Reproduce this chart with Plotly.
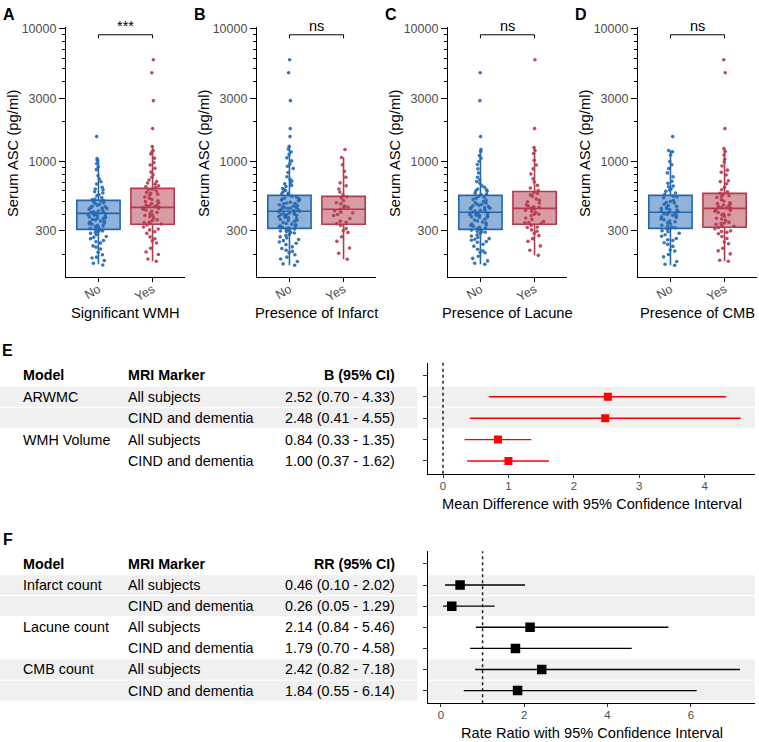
import math
import plotly.graph_objects as go

W, H = 759, 742
FONT = "Liberation Sans, Arial, Helvetica, sans-serif"
BLUE, RED = "#2467b1", "#b43a4c"
BLUE_FILL, RED_FILL = "rgba(36,103,177,0.5)", "rgba(180,58,76,0.5)"
TICK_GRAY = "#4d4d4d"

# ---------------- data: panels A-D (Serum ASC, pg/ml) ----------------
categories = ["No", "Yes"]
panel_letters = ["A", "B", "C", "D"]
panel_xtitles = ["Significant WMH", "Presence of Infarct", "Presence of Lacune", "Presence of CMB"]
panel_sig = ["***", "ns", "ns", "ns"]
y_tick_vals = [300, 1000, 3000, 10000]

# box statistics: lower whisker, Q1, median, Q3, upper whisker
A_no_box = [168, 308, 406, 509, 1050]
A_yes_box = [177, 336, 451, 627, 1297]
B_no_box = [165, 313, 421, 555, 1300]
B_yes_box = [183, 336, 436, 546, 1072]
C_no_box = [168, 308, 414, 555, 1230]
C_yes_box = [196, 336, 443, 594, 1274]
D_no_box = [165, 313, 414, 555, 1210]
D_yes_box = [177, 319, 443, 575, 1250]

# individual subject values (estimated from the figure)
A_no = [412, 287, 355, 520, 198, 640, 377, 305, 468, 231, 1020, 349, 441, 262, 578, 396, 318, 179, 503, 703,
        423, 336, 254, 455, 611, 372, 291, 482, 166, 389, 534, 327, 868, 409, 243, 362, 497, 219, 676, 431,
        312, 551, 272, 384, 460, 190, 592, 342, 415, 781, 299, 476, 207, 365, 437, 1050, 323, 508, 248, 401,
        738, 281, 449, 354, 187, 620, 393, 330, 489, 226, 913, 371, 418, 268, 561, 306, 446, 340, 171, 515,
        404, 296, 965, 381, 1540]
A_yes = [452, 338, 705, 261, 498, 1210, 395, 583, 310, 655, 467, 222, 889, 421, 359, 540, 184, 1060, 443, 612,
         287, 376, 760, 505, 243, 470, 349, 1297, 598, 412, 321, 675, 528, 199, 437, 832, 383, 567, 295, 1140,
         461, 637, 346, 270, 489, 725, 403, 980, 556, 332, 177, 618, 430, 364, 795, 517, 252, 447, 689, 305,
         1175, 575, 392, 458, 940, 341, 208, 645, 481, 1770, 2875, 4670, 5850]
B_no = [421, 302, 560, 198, 377, 648, 265, 455, 333, 1010, 487, 214, 396, 712, 318, 530, 242, 437, 592, 353,
        169, 472, 826, 289, 409, 365, 1240, 512, 227, 446, 625, 341, 276, 384, 505, 190, 958, 428, 310, 575,
        253, 462, 690, 328, 401, 1130, 296, 540, 210, 418, 370, 767, 322, 479, 236, 615, 391, 282, 1300, 448,
        546, 176, 404, 347, 886, 315, 493, 258, 432, 660, 359, 205, 521, 386, 1065, 299, 466, 735, 247, 412,
        337, 570, 184, 452, 604, 308, 398, 920, 270, 482, 361, 221, 525, 426, 1180, 292, 443, 680, 165, 379,
        515, 326, 1540, 1770, 2875, 4670, 5850]
B_yes = [436, 312, 560, 250, 410, 690, 355, 488, 183, 845, 398, 530, 292, 452, 620, 340, 1072, 425, 223, 507,
         372, 760, 461, 329, 588, 271, 415, 945, 348, 479, 203, 542, 392, 655, 300, 445, 1230]
C_no = [414, 296, 563, 205, 381, 640, 262, 449, 330, 1005, 485, 218, 392, 705, 315, 528, 246, 433, 598, 350,
        171, 467, 818, 286, 404, 362, 1190, 509, 230, 441, 621, 338, 274, 380, 499, 193, 950, 423, 306, 577,
        255, 458, 686, 325, 398, 1110, 293, 538, 212, 416, 367, 760, 319, 474, 238, 612, 387, 279, 1230, 445,
        547, 178, 402, 344, 880, 311, 490, 259, 429, 655, 356, 207, 518, 383, 1060, 297, 463, 728, 249, 408,
        334, 568, 186, 450, 602, 304, 394, 168, 268, 478, 1540, 2875, 4670]
C_yes = [443, 320, 605, 262, 412, 740, 352, 497, 196, 880, 401, 548, 288, 462, 660, 341, 1150, 428, 231, 522,
         375, 805, 471, 330, 584, 276, 419, 1020, 347, 486, 214, 560, 390, 700, 305, 455, 1274, 365, 630, 250,
         438, 940, 318, 510, 400, 1210, 298, 575, 452, 345, 1770, 5850]
D_no = [414, 300, 565, 199, 378, 645, 263, 450, 331, 1000, 486, 215, 393, 710, 316, 532, 244, 434, 596, 351,
        168, 466, 820, 288, 406, 364, 1185, 508, 229, 442, 622, 339, 273, 382, 500, 191, 945, 424, 309, 578,
        254, 459, 685, 326, 399, 1120, 295, 540, 211, 417, 368, 765, 321, 475, 237, 610, 388, 280, 1210, 444,
        548, 176, 403, 345, 885, 314, 491, 257, 430, 652, 357, 165, 1540]
D_yes = [443, 318, 590, 240, 402, 715, 349, 489, 180, 860, 395, 538, 285, 458, 640, 336, 1120, 421, 222, 515,
         368, 790, 465, 327, 575, 263, 412, 990, 344, 478, 201, 552, 386, 680, 300, 449, 1250, 361, 612, 247,
         433, 925, 311, 503, 397, 1190, 292, 566, 447, 340, 177, 705, 272, 481, 1040, 325, 428, 212, 545, 373,
         830, 296, 470, 1770, 4670, 5850]

# ---------------- data: panel E (mean difference) ----------------
E_model = ["ARWMC", "", "WMH Volume", ""]
E_marker = ["All subjects", "CIND and dementia", "All subjects", "CIND and dementia"]
E_est = [2.52, 2.48, 0.84, 1.00]
E_lo = [0.70, 0.41, 0.33, 0.37]
E_hi = [4.33, 4.55, 1.35, 1.62]
E_shaded = [True, True, False, False]

# ---------------- data: panel F (rate ratio) ----------------
F_model = ["Infarct count", "", "Lacune count", "", "CMB count", ""]
F_marker = ["All subjects", "CIND and dementia"] * 3
F_est = [0.46, 0.26, 2.14, 1.79, 2.42, 1.84]
F_lo = [0.10, 0.05, 0.84, 0.70, 0.82, 0.55]
F_hi = [2.02, 1.29, 5.46, 4.58, 7.18, 6.14]
F_shaded = [True, True, False, False, True, True]

panels = [
    (A_no, A_yes, A_no_box, A_yes_box),
    (B_no, B_yes, B_no_box, B_yes_box),
    (C_no, C_yes, C_no_box, C_yes_box),
    (D_no, D_yes, D_no_box, D_yes_box),
]

def px_x(p):
    return p / W

def px_y(p):
    return 1 - p / H

fig = go.Figure()
annotations = []
shapes = []
layout = {}

# ---------------- panels A-D ----------------
panel_left = [66, 257, 448, 638]
panel_w = 119
top_y0, top_y1 = 22, 274
for i, (vals_no, vals_yes, st_no, st_yes) in enumerate(panels):
    k = i + 1
    xa, ya = f"x{k}", f"y{k}"
    for pos, vals, st, col, fill in [(0, vals_no, st_no, BLUE, BLUE_FILL), (1, vals_yes, st_yes, RED, RED_FILL)]:
        fig.add_trace(go.Box(
            x=[pos], lowerfence=[st[0]], q1=[st[1]], median=[st[2]], q3=[st[3]], upperfence=[st[4]],
            orientation="v", width=0.8, whiskerwidth=0, fillcolor=fill,
            line=dict(color=col, width=1.6), boxpoints=False, xaxis=xa, yaxis=ya, hoverinfo="skip"))
        fig.add_trace(go.Box(
            x=[pos] * len(vals), y=vals, orientation="v", width=0.8, boxpoints="all", jitter=0.5,
            pointpos=0, fillcolor="rgba(0,0,0,0)", line=dict(color="rgba(0,0,0,0)", width=0),
            marker=dict(color=col, size=3.6, opacity=0.9), xaxis=xa, yaxis=ya, hoverinfo="skip"))
    # significance bracket
    fig.add_trace(go.Scatter(x=[0, 0, 1, 1], y=[8490, 9020, 9020, 8490], mode="lines",
                             line=dict(color="black", width=1), xaxis=xa, yaxis=ya, hoverinfo="skip"))
    annotations.append(dict(x=0.5, y=math.log10(9020), xref=xa, yref=ya, text=panel_sig[i],
                            showarrow=False, yanchor="bottom", yshift=-1,
                            font=dict(family=FONT, size=14.5, color="black")))
    suffix = "" if k == 1 else str(k)
    layout[f"xaxis{suffix}"] = dict(
        domain=[px_x(panel_left[i]), px_x(panel_left[i] + panel_w)], anchor=ya, range=[-0.6, 1.6],
        tickvals=[0, 1], ticktext=categories, tickangle=-30, ticks="outside", ticklen=4,
        tickcolor="black", showline=True, linecolor="black", linewidth=1.2, showgrid=False,
        zeroline=False, ticklabelstandoff=-5, tickfont=dict(family=FONT, size=12.5, color=TICK_GRAY))
    layout[f"yaxis{suffix}"] = dict(
        domain=[px_y(top_y1), px_y(top_y0)], anchor=xa, type="log", range=[2.128, 4.015],
        tickvals=y_tick_vals, ticktext=[str(v) for v in y_tick_vals], ticks="outside", ticklen=6,
        tickcolor="black", tickwidth=1.2, showline=True, linecolor="black", linewidth=1.2,
        showgrid=False, zeroline=False, tickfont=dict(family=FONT, size=12.5, color=TICK_GRAY),
        minor=dict(ticks="outside", ticklen=3, dtick="D1", tickcolor="black", tickwidth=1, showgrid=False))
    # titles and panel letters
    cx = panel_left[i] + panel_w / 2
    annotations.append(dict(x=px_x(cx), y=px_y(310), xref="paper", yref="paper", text=panel_xtitles[i],
                            showarrow=False, xanchor="center", yanchor="middle",
                            font=dict(family=FONT, size=14.7, color="black")))
    annotations.append(dict(x=px_x(panel_left[i] - 53), y=px_y(149), xref="paper", yref="paper",
                            text="Serum ASC (pg/ml)", textangle=-90, showarrow=False,
                            xanchor="center", yanchor="middle",
                            font=dict(family=FONT, size=14.8, color="black")))
    annotations.append(dict(x=px_x(panel_left[i] - 57), y=px_y(10), xref="paper", yref="paper",
                            text=f"<b>{panel_letters[i]}</b>", showarrow=False, xanchor="center",
                            yanchor="middle", font=dict(family=FONT, size=16, color="black")))

# ---------------- forest panels E and F ----------------
def forest(k, model, marker, est, lo, hi, shaded, color, msize, header, xrange, xticks, dom_top, dom_bot,
           xvline, xtitle, title_y, letter, letter_y):
    xa, ya = f"x{k}", f"y{k}"
    n = len(est)
    rows = list(range(2, n + 2))
    fig.add_trace(go.Scatter(
        x=est, y=rows, mode="markers", xaxis=xa, yaxis=ya, hoverinfo="skip",
        marker=dict(symbol="square", size=msize, color=color),
        error_x=dict(type="data", symmetric=False, array=[h - e for h, e in zip(hi, est)],
                     arrayminus=[e - l for e, l in zip(est, lo)], width=0, color=color, thickness=1.4)))
    layout[f"xaxis{k}"] = dict(
        domain=[px_x(428), px_x(755)], anchor=ya, range=xrange, tickvals=xticks, ticks="outside",
        ticklen=3, tickcolor="#333", showline=True, linecolor="black", linewidth=1.2, showgrid=False,
        zeroline=False, ticklabelstandoff=-2, tickfont=dict(family=FONT, size=11.5, color=TICK_GRAY))
    layout[f"yaxis{k}"] = dict(
        domain=[px_y(dom_bot), px_y(dom_top)], anchor=xa, range=[n + 1.6, 0.4],
        tickvals=list(range(1, n + 2)), ticktext=[""] * (n + 1), ticks="outside", ticklen=4,
        tickcolor="#333", showline=True, linecolor="black", linewidth=1.2, showgrid=False,
        zeroline=False, showticklabels=False)
    shapes.append(dict(type="line", xref=xa, yref=f"{ya} domain", x0=xvline, x1=xvline, y0=0, y1=1,
                       line=dict(color="#222", width=1.5, dash="dot"), layer="above"))
    for r, sh in zip(rows, shaded):
        if sh:
            shapes.append(dict(type="rect", xref="paper", yref=ya, x0=0, x1=px_x(417), y0=r - 0.47,
                               y1=r + 0.47, fillcolor="#f0f0f0", line=dict(width=0), layer="below"))
            shapes.append(dict(type="rect", xref=f"{xa} domain", yref=ya, x0=0, x1=1, y0=r - 0.47,
                               y1=r + 0.47, fillcolor="#f0f0f0", line=dict(width=0), layer="below"))
    tf = dict(family=FONT, size=14.3, color="black")
    for txt, xx, anc in [("<b>Model</b>", 21, "left"), ("<b>MRI Marker</b>", 126, "left"),
                         (f"<b>{header}</b>", 397, "right")]:
        annotations.append(dict(x=px_x(xx), y=1, xref="paper", yref=ya, text=txt, showarrow=False,
                                xanchor=anc, yanchor="middle", font=tf))
    for r, m, mk, e, l, h in zip(rows, model, marker, est, lo, hi):
        if m:
            annotations.append(dict(x=px_x(21), y=r, xref="paper", yref=ya, text=m, showarrow=False,
                                    xanchor="left", yanchor="middle", font=tf))
        annotations.append(dict(x=px_x(126), y=r, xref="paper", yref=ya, text=mk, showarrow=False,
                                xanchor="left", yanchor="middle", font=tf))
        annotations.append(dict(x=px_x(397), y=r, xref="paper", yref=ya,
                                text=f"{e:.2f} ({l:.2f} - {h:.2f})", showarrow=False,
                                xanchor="right", yanchor="middle", font=tf))
    annotations.append(dict(x=px_x(591.5), y=px_y(title_y), xref="paper", yref="paper", text=xtitle,
                            showarrow=False, xanchor="center", yanchor="middle",
                            font=dict(family=FONT, size=14.6, color="black")))
    annotations.append(dict(x=px_x(7.5), y=px_y(letter_y), xref="paper", yref="paper",
                            text=f"<b>{letter}</b>", showarrow=False, xanchor="center", yanchor="middle",
                            font=dict(family=FONT, size=16, color="black")))

forest(5, E_model, E_marker, E_est, E_lo, E_hi, E_shaded, "#ff0000", 8, "B (95% CI)",
       [-0.23, 4.77], [0, 1, 2, 3, 4], 360, 472, 0, "Mean Difference with 95% Confidence Interval", 502,
       "E", 348)
forest(6, F_model, F_marker, F_est, F_lo, F_hi, F_shaded, "black", 9.5, "RR (95% CI)",
       [-0.31, 7.54], [0, 2, 4, 6], 550, 703, 1, "Rate Ratio with 95% Confidence Interval", 733,
       "F", 538)

fig.update_layout(
    width=W, height=H, margin=dict(l=0, r=0, t=0, b=0), showlegend=False, boxmode="overlay",
    paper_bgcolor="white", plot_bgcolor="rgba(0,0,0,0)", font=dict(family=FONT),
    annotations=annotations, shapes=shapes, **layout)

fig.write_html("out.html")
